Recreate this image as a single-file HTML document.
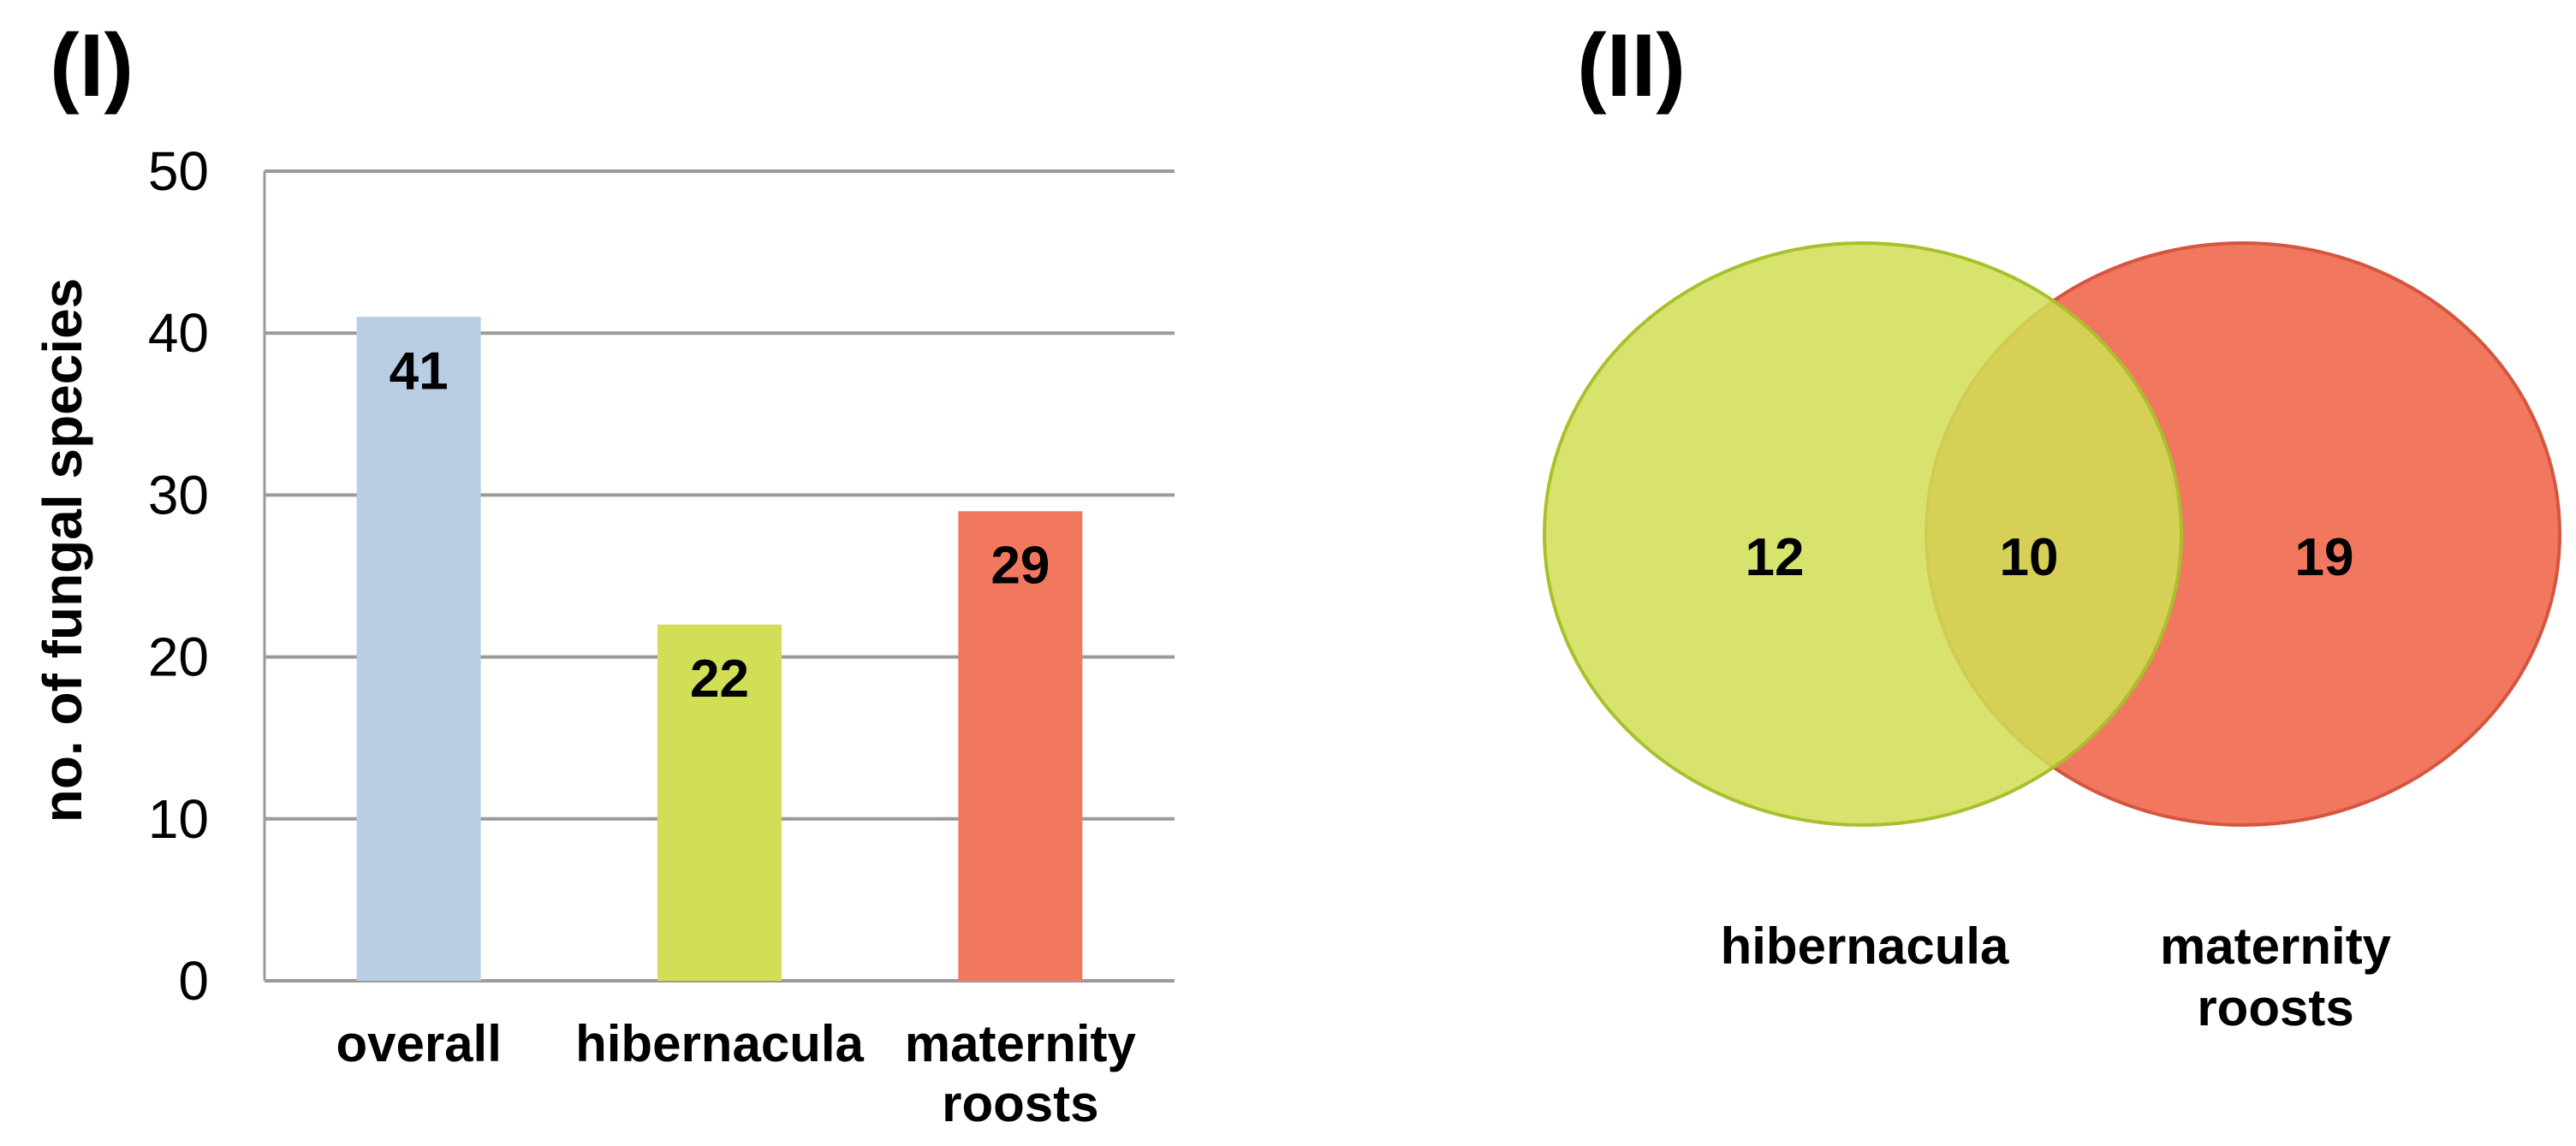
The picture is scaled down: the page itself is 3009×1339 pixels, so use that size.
<!DOCTYPE html>
<html><head><meta charset="utf-8">
<style>
html,body{margin:0;padding:0;background:#fff;}
svg{display:block;font-family:"Liberation Sans",Arial,sans-serif;}
</style></head>
<body>
<svg id="fig" width="3009" height="1339" viewBox="0 0 3009 1339" xmlns="http://www.w3.org/2000/svg">
<text x="58" y="112" font-size="104" font-weight="bold">(I)</text>
<text x="1842" y="112" font-size="104" font-weight="bold">(II)</text>
<g id="bar-chart"></g>
<g id="venn"></g>
</svg>
<script>
const categories = ["overall", "hibernacula", "maternity roosts"];
const values = [41, 22, 29];
const yTicks = [0, 10, 20, 30, 40, 50];
const barColors = ["#b9cde5", "#d2de55", "#f2775f"];
const vennLabels = ["hibernacula", "maternity roosts"];
const vennCounts = [12, 10, 19];

const NS = "http://www.w3.org/2000/svg";
function mk(tag, attrs, parent){const e=document.createElementNS(NS,tag);for(const k in attrs)e.setAttribute(k,attrs[k]);parent.appendChild(e);return e;}

const plot = {x0:309, x1:1372, y0:1146, y1:200, min:0, max:50};
function yScale(v){return plot.y0 - (v-plot.min)/(plot.max-plot.min)*(plot.y0-plot.y1);}
const band = (plot.x1-plot.x0)/categories.length;
function xCenter(i){return plot.x0 + band*(i+0.5) + (i-1)*-3;}
const barW = 145;

const g = document.getElementById('bar-chart');
yTicks.forEach(t=>{
  const y=yScale(t);
  const l=mk('line',{x1:plot.x0,x2:plot.x1,y1:y,y2:y,stroke:'#9a9a9a','stroke-width':4},g);
  
  
  const tx=mk('text',{x:244,y:y+22,'font-size':64,'text-anchor':'end',fill:'#000'},g);
  tx.textContent=t;
  
  
});
const ax=mk('line',{x1:plot.x0,x2:plot.x0,y1:plot.y1,y2:plot.y0,stroke:'#9a9a9a','stroke-width':3},g);



values.forEach((v,i)=>{
  const cx=xCenter(i), top=yScale(v);
  const r=mk('rect',{x:cx-barW/2,y:top,width:barW,height:plot.y0-top,fill:barColors[i]},g);
  
  
  const t=mk('text',{x:cx,y:top+84,'font-size':62,'font-weight':'bold','text-anchor':'middle'},g);
  t.textContent=v;
  
  
  const words=categories[i].split(' ');
  words.forEach((w,k)=>{
    const c=mk('text',{x:cx,y:1240+k*70,'font-size':60,'font-weight':'bold','text-anchor':'middle'},g);
    c.textContent=w;
    
    
  });
});
const yt=mk('text',{x:0,y:0,'font-size':64,'font-weight':'bold','text-anchor':'middle',transform:'translate(95,643) rotate(-90)'},g);
yt.textContent='no. of fungal species';



// Venn
const v=document.getElementById('venn');
const red=mk('ellipse',{cx:2620,cy:624,rx:370,ry:340,fill:'#f2775f',stroke:'#d65540','stroke-width':4},v);


const green=mk('ellipse',{cx:2176,cy:624,rx:372,ry:340,fill:'#d2de55','fill-opacity':0.86,stroke:'#a9c02c','stroke-width':4},v);


const cxs=[2073,2370,2715];
const regionNames=['hibernacula-only','shared','maternity-only'];
vennCounts.forEach((n,i)=>{
  const t=mk('text',{x:cxs[i],y:672,'font-size':62,'font-weight':'bold','text-anchor':'middle'},v);
  t.textContent=n;
  
  
});
const lx=[2178,2658];
vennLabels.forEach((lab,i)=>{
  lab.split(' ').forEach((w,k)=>{
    const t=mk('text',{x:lx[i],y:1126+k*72,'font-size':60,'font-weight':'bold','text-anchor':'middle'},v);
    t.textContent=w;
    
    
  });
});
</script>
</body></html>
